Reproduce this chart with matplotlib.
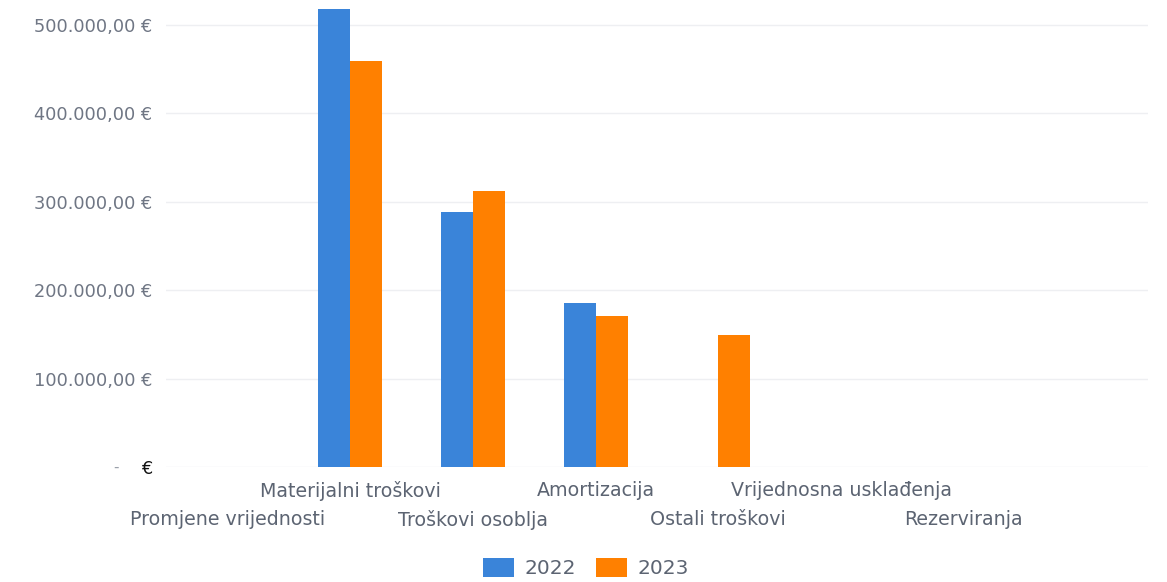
import numpy as np
import matplotlib.pyplot as plt
from matplotlib.ticker import FuncFormatter

categories = ["Promjene vrijednosti", "Materijalni troškovi", "Troškovi osoblja",
              "Amortizacija", "Ostali troškovi", "Vrijednosna usklađenja", "Rezerviranja"]
series_names = ["2022", "2023"]
values_2022 = [0, 518000, 288000, 186000, 0, 0, 0]
values_2023 = [0, 459000, 312000, 171000, 149000, 0, 0]
y_ticks = [0, 100000, 200000, 300000, 400000, 500000]

blue = "#3a84d9"
orange = "#ff8000"
label_col = "#6f7684"


def euro(v, pos):
    if v == 0:
        return "€"
    s = f"{v:,.2f}".replace(",", "X").replace(".", ",").replace("X", ".")
    return s + " €"


fig = plt.figure(figsize=(11.67, 5.82), dpi=100)
ax = fig.add_axes([0.1422, 0.1976, 0.8415, 0.7975])

x = np.arange(len(categories))
w = 0.26
ax.bar(x - w / 2, values_2022, w, color=blue, label=series_names[0], zorder=3)
ax.bar(x + w / 2, values_2023, w, color=orange, label=series_names[1], zorder=3)

ax.set_xlim(-0.5, 7.5)
ax.set_ylim(0, 525000)
ax.set_yticks(y_ticks)
ax.yaxis.set_major_formatter(FuncFormatter(euro))
ax.tick_params(axis="y", length=0, pad=10, labelsize=12.8, labelcolor=label_col)
ax.get_yticklabels()[0].set_color("#111111")
ax.annotate("-", (0, 0), xycoords=("axes fraction", "data"), xytext=(-34, 0),
            textcoords="offset points", ha="right", va="center",
            color="#9aa0aa", fontsize=11)
ax.grid(axis="y", color="#eeeff2", linewidth=1, zorder=0)
for s in ax.spines.values():
    s.set_visible(False)

# category labels in two staggered rows
ax.set_xticks([])
for i, name in enumerate(categories):
    yoff = -17 if i % 2 == 1 else -38
    ax.annotate(name, (x[i], 0), xycoords=("data", "data"), xytext=(0, yoff),
                textcoords="offset points", ha="center", va="center",
                fontsize=13.7, color="#5c6472")

fig.legend(loc="lower center", bbox_to_anchor=(0.502, -0.025), ncol=2, frameon=False,
           fontsize=14.5, handlelength=1.55, handleheight=1.1, columnspacing=1.0,
           handletextpad=0.5, labelcolor="#5c6472")

fig.savefig("out.png", dpi=100)
